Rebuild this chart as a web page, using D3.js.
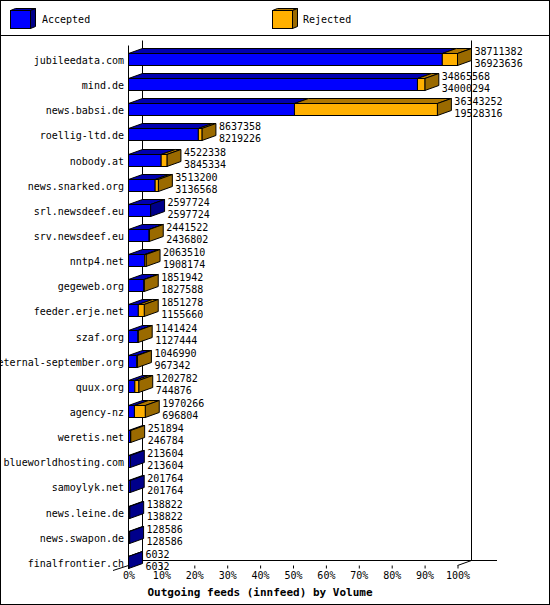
<!DOCTYPE html>
<html><head><meta charset="utf-8">
<script src="https://cdn.jsdelivr.net/npm/d3@7"></script>
<style>body{margin:0;background:#fff}text{font-family:"DejaVu Sans Mono",monospace;font-size:10px}</style>
</head><body><div id="chart"></div>
<script>
var hosts = ["jubileedata.com","mind.de","news.babsi.de","roellig-ltd.de","nobody.at","news.snarked.org",
  "srl.newsdeef.eu","srv.newsdeef.eu","nntp4.net","gegeweb.org","feeder.erje.net","szaf.org",
  "eternal-september.org","quux.org","agency-nz","weretis.net","blueworldhosting.com","samoylyk.net",
  "news.leine.de","news.swapon.de","finalfrontier.ch"];
var totals = [38711382,34865568,36343252,8637358,4522338,3513200,2597724,2441522,2063510,1851942,1851278,
  1141424,1046990,1202782,1970266,251894,213604,201764,138822,128586,6032];
var accepted = [36923636,34000294,19528316,8219226,3845334,3136568,2597724,2436802,1908174,1827588,1155660,
  1127444,967342,744876,696804,246784,213604,201764,138822,128586,6032];
var ticks = [0,10,20,30,40,50,60,70,80,90,100];

var W = 550, H = 605, dx = 14, dy = 5;
var svg = d3.select("#chart").append("svg").attr("width", W).attr("height", H);
svg.append("rect").attr("x",0.5).attr("y",0.5).attr("width",W-1).attr("height",H-1).attr("fill","#fff").attr("stroke","#000");
svg.append("line").attr("x1",0).attr("x2",W).attr("y1",35.5).attr("y2",35.5).attr("stroke","#000");

var cols = {acc:["#0000ff","#0000b0","#00008a"], rej:["#ffb000","#b07800","#9a6a00"]};

function box3d(g, x0, x1, y, h, c, side, d) {
  var ddx = d || dx, ddy = d ? d/2.5 : dy;
  g.append("polygon").attr("points", [[x0,y],[x0+ddx,y-ddy],[x1+ddx,y-ddy],[x1,y]].join(" "))
    .attr("fill", c[1]).attr("stroke","#000").attr("stroke-width",1);
  if (side) g.append("polygon").attr("points", [[x1,y],[x1+ddx,y-ddy],[x1+ddx,y+h-ddy],[x1,y+h]].join(" "))
    .attr("fill", c[2]).attr("stroke","#000");
  g.append("rect").attr("x",x0).attr("y",y).attr("width",Math.max(0,x1-x0)).attr("height",h)
    .attr("fill",c[0]).attr("stroke","#000");
}

// legend
var lg = svg.append("g");
box3d(lg, 10.5, 30.5, 10.5, 18, cols.acc, true, 5);
lg.append("text").attr("x",42).attr("y",23).text("Accepted");
box3d(lg, 272.5, 292.5, 10.5, 18, cols.rej, true, 5);
lg.append("text").attr("x",303).attr("y",23).text("Rejected");

var x = d3.scaleLinear().domain([0, d3.max(totals)]).range([128.5, 457.5]);
var xp = d3.scaleLinear().domain([0,100]).range([128.5, 457.5]);
var y = d3.scaleBand().domain(hosts).range([48, 573]).paddingInner(0.52).paddingOuter(0.2);
var bot = 565.5, topY = 40.5;

// frame
svg.append("line").attr("x1",128.5).attr("x2",128.5).attr("y1",topY+5).attr("y2",bot).attr("stroke","#000");
svg.append("line").attr("x1",142.5).attr("x2",142.5).attr("y1",topY).attr("y2",bot-dy).attr("stroke","#000");
svg.append("line").attr("x1",471.5).attr("x2",471.5).attr("y1",topY).attr("y2",bot-dy).attr("stroke","#000");
svg.append("line").attr("x1",142.5).attr("x2",497).attr("y1",bot-dy).attr("y2",bot-dy).attr("stroke","#000");
svg.append("line").attr("x1",471.5).attr("x2",457.5).attr("y1",bot-dy).attr("y2",bot).attr("stroke","#000");
svg.append("line").attr("x1",113).attr("x2",128.5).attr("y1",bot+5).attr("y2",bot).attr("stroke","#000");

var g = svg.append("g");
hosts.forEach(function(hn, i) {
  var yy = Math.round(y(hn)) + 0.5, h = 12;
  var xa = x(accepted[i]), xt = x(totals[i]), x0 = x(0);
  var hasRej = totals[i] > accepted[i];
  box3d(g, x0, xa, yy, h, cols.acc, !hasRej);
  if (hasRej) box3d(g, xa, xt, yy, h, cols.rej, true);
  g.append("text").attr("x",124).attr("y",yy+h/2+4).attr("text-anchor","end").text(hn);
  g.append("text").attr("x",xt+dx+3).attr("y",yy+1).text(totals[i]);
  g.append("text").attr("x",xt+dx+3).attr("y",yy+13).text(accepted[i]);
});

var ax = svg.append("g").attr("transform","translate(0,"+bot+")")
  .call(d3.axisBottom(xp).tickValues(ticks).tickSize(3).tickFormat(function(d){return d+"%";}));
ax.select(".domain").remove();
ax.selectAll("text").style("font-family","DejaVu Sans Mono").style("font-size","10px").attr("fill","#000");

svg.append("text").attr("x",260).attr("y",596).attr("text-anchor","middle").style("font-weight","bold")
  .style("font-size","11px").text("Outgoing feeds (innfeed) by Volume");
</script></body></html>
